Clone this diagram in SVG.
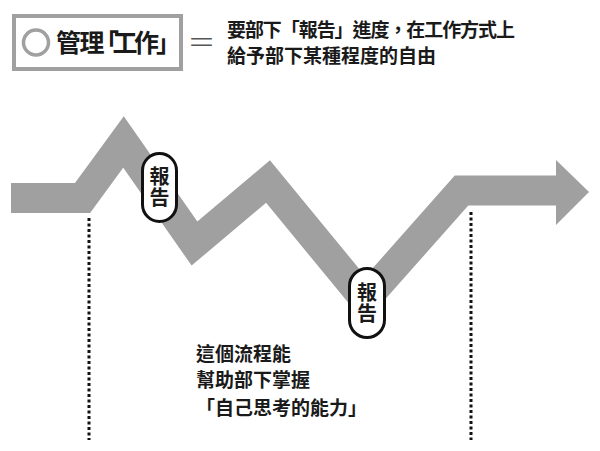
<svg xmlns="http://www.w3.org/2000/svg" width="600" height="451" viewBox="0 0 600 451">
<style>
.t{font-family:"Noto Sans CJK TC","Noto Sans CJK SC",sans-serif;font-weight:700;fill:#1a1a1a}
.v{writing-mode:vertical-rl;letter-spacing:1px}
.badge{fill:#fff;stroke:#111;stroke-width:3}
.dot{fill:none;stroke:#111;stroke-width:3;stroke-dasharray:3 2.5}
</style>
<rect width="600" height="451" fill="#fff"/>
<g id="header">
<rect x="14" y="16" width="167" height="53" fill="#fff" stroke="#a0a0a0" stroke-width="4"/>
<circle cx="36" cy="42.5" r="12.5" fill="none" stroke="#a0a0a0" stroke-width="3.5"/>
<text class="t" x="56 79.5 94 112.5 134 156" y="52" font-size="25">管理「工作」</text>
</g>
<g id="equals">
<text x="201.5" y="53" font-size="28" text-anchor="middle" style="font-family:'Noto Sans CJK TC',sans-serif;font-weight:300;fill:#555">＝</text>
</g>
<g id="definition">
<text class="t" x="227" y="36.5" font-size="19" textLength="288">要部下「報告」進度，在工作方式上</text>
<text class="t" x="227" y="62.5" font-size="19">給予部下某種程度的自由</text>
</g>
<g id="connectors">
<polyline points="11,198 82.5,198 123.5,142 194.5,243.5 268,181.5 365,299.5 461.5,190.5 557,190.5" fill="none" stroke="#a0a0a0" stroke-width="30" stroke-linejoin="miter" stroke-miterlimit="6"/>
<polygon points="556,160 589,192 556,225" fill="#a0a0a0"/>
<line class="dot" x1="89" y1="218" x2="89" y2="440"/>
<line class="dot" x1="471" y1="212" x2="471" y2="440"/>
</g>
<g id="report1">
<rect class="badge" x="142.5" y="153.5" width="34" height="68" rx="17"/>
<text class="t v" x="159.5" y="187.5" font-size="20" text-anchor="middle">報告</text>
</g>
<g id="report2">
<rect class="badge" x="349.5" y="268.5" width="35" height="69" rx="17.5"/>
<text class="t v" x="367" y="303.5" font-size="20" text-anchor="middle">報告</text>
</g>
<g id="summary">
<text class="t" x="196" y="361" font-size="19">這個流程能</text>
<text class="t" x="196" y="387" font-size="19">幫助部下掌握</text>
<text class="t" x="196" y="415" font-size="19">「自己思考的能力」</text>
</g>
</svg>
